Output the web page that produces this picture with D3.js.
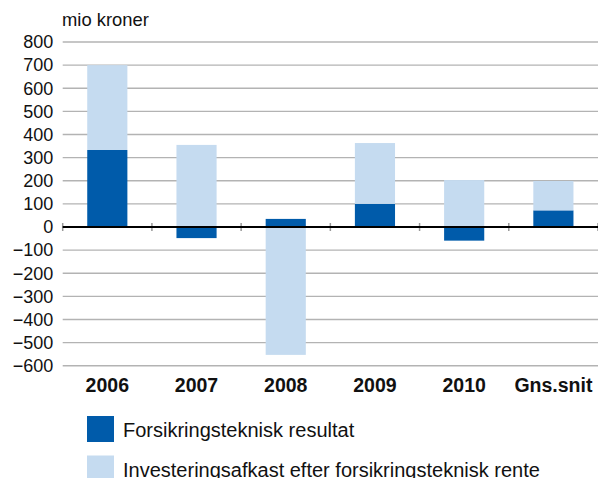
<!DOCTYPE html>
<html lang="da">
<head>
<meta charset="UTF-8">
<title>Forsikringsteknisk resultat</title>
<script src="https://d3js.org/d3.v7.min.js"></script>
<style>
body { margin: 0; background: white; }
svg { display: block; font-family: "Liberation Sans", Arial, Helvetica, sans-serif; }
</style>
</head>
<body>
<svg></svg>
<script>
// data (mio kroner)
const categories = ["2006", "2007", "2008", "2009", "2010", "Gns.snit"];
const resultat = [333, -48, 35, 100, -59, 72];
const investering = [367, 355, -553, 263, 203, 127];
const seriesNames = ["Forsikringsteknisk resultat", "Investeringsafkast efter forsikringsteknisk rente"];
const yTicks = [-600, -500, -400, -300, -200, -100, 0, 100, 200, 300, 400, 500, 600, 700, 800];

const width = 598, height = 478;
const colors = ["#005BAA", "#C5DBF0"];

let svg = d3.select("svg").attr("width", width).attr("height", height);

let x = d3.scaleBand()
  .domain(categories)
  .range([62.7, 598])
  .paddingInner(0.55)
  .paddingOuter(0.275);
let y = d3.scaleLinear()
  .domain([-600, 800])
  .range([365.75, 42]);

// gridlines
svg.append("g").selectAll("line").data(yTicks.filter(d => d !== 0)).enter().append("line")
  .attr("x1", 62.7).attr("x2", width)
  .attr("y1", d => y(d)).attr("y2", d => y(d))
  .attr("stroke", "#b3b3b3")
  .attr("stroke-width", 1.3);

// y axis labels
let yAxis = svg.append("g")
  .attr("transform", "translate(62.7,0)")
  .call(d3.axisLeft(y).tickValues(yTicks).tickSize(0).tickPadding(9.5).tickFormat(d3.format("d")));
yAxis.select(".domain").remove();
yAxis.selectAll("text").attr("font-size", 18).attr("fill", "#111").attr("font-family", null);

svg.append("text")
  .attr("x", 62).attr("y", 26)
  .attr("font-size", 18.4).attr("fill", "#111")
  .text("mio kroner");

// stacked bars with positive and negative parts from zero
let rows = categories.map((c, i) => ({cat: c, a: resultat[i], b: investering[i]}));
let stacked = d3.stack().keys(["a", "b"]).offset(d3.stackOffsetDiverging)(rows);

svg.append("g").selectAll("g").data(stacked).enter().append("g")
  .attr("fill", (d, i) => colors[i])
  .selectAll("rect").data(d => d).enter().append("rect")
  .attr("x", d => x(d.data.cat))
  .attr("width", x.bandwidth())
  .attr("y", d => y(Math.max(d[0], d[1])))
  .attr("height", d => Math.abs(y(d[0]) - y(d[1])));

// category boundary ticks
let step = x.step();
let bounds = d3.range(categories.length + 1).map(i => 62.7 + i * step);
svg.append("g").selectAll("line").data(bounds).enter().append("line")
  .attr("x1", d => d).attr("x2", d => d)
  .attr("y1", y(0) - 4).attr("y2", y(0) + 4)
  .attr("stroke", "#999")
  .attr("stroke-width", 1.5);

// zero line
svg.append("line")
  .attr("x1", 62.7).attr("x2", width)
  .attr("y1", y(0)).attr("y2", y(0))
  .attr("stroke", "black")
  .attr("stroke-width", 2.2);

// x labels
svg.append("g").selectAll("text").data(categories).enter().append("text")
  .attr("x", d => x(d) + x.bandwidth() / 2)
  .attr("y", 392)
  .attr("text-anchor", "middle")
  .attr("font-size", 19.5)
  .attr("font-weight", "bold")
  .attr("fill", "#111")
  .text(d => d);

// legend
let legend = svg.append("g").selectAll("g").data(seriesNames).enter().append("g")
  .attr("transform", (d, i) => "translate(87," + (416 + i * 39.5) + ")");
legend.append("rect")
  .attr("width", 27).attr("height", 26)
  .attr("fill", (d, i) => colors[i]);
legend.append("text")
  .attr("x", 36).attr("y", 21)
  .attr("font-size", 20)
  .attr("fill", "#111")
  .text(d => d);
</script>
</body>
</html>
